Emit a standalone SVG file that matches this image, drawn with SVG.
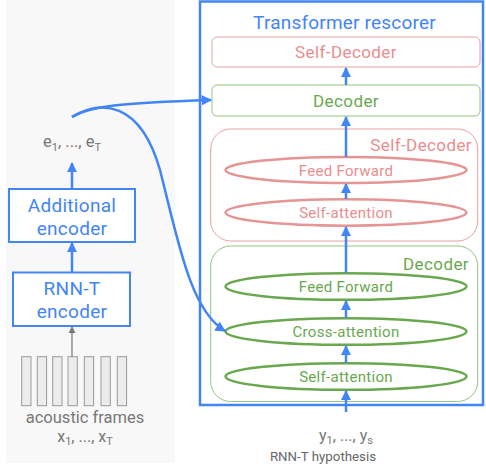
<svg xmlns="http://www.w3.org/2000/svg" width="486" height="468" viewBox="0 0 486 468">
<defs>
<style>
text{font-family:Roboto,"Liberation Sans",sans-serif;text-anchor:middle}
.blue{fill:#4285f4}
.pink{fill:#e88e8e}
.green{fill:#6aa84f}
.grey{fill:#777777}
.box{font-size:17px;letter-spacing:0.4px}
.el{font-size:15px;letter-spacing:0.3px}
.enc{font-size:19px;letter-spacing:0.3px}
.conn{fill:none;stroke:#4285f4;stroke-width:2.5}
.pel{fill:none;stroke:#e69595;stroke-width:2.5}
.gel{fill:none;stroke:#6aa84f;stroke-width:2.5}
.frame{fill:#ececec;stroke:#9a9a9a;stroke-width:1}
</style>
<marker id="ah" viewBox="0 0 10 10" refX="9" refY="5" markerWidth="4.2" markerHeight="4.2" orient="auto"><path d="M0,0L10,5L0,10z" fill="#4285f4"/></marker>
<marker id="ahg" viewBox="0 0 10 10" refX="9" refY="5" markerWidth="6" markerHeight="6" orient="auto"><path d="M0,0L10,5L0,10z" fill="#777"/></marker>
</defs>
<rect x="6" y="0" width="169" height="463" fill="#f8f8f8"/>
<g id="rescorer">
<rect x="200" y="1.5" width="283" height="403.5" fill="none" stroke="#4285f4" stroke-width="2.5"/>
<text x="344.5" y="29" font-size="19" letter-spacing="0.2" class="blue">Transformer rescorer</text>
</g>
<g id="self-decoder-top">
<rect x="212" y="37" width="268" height="30" rx="5" fill="#fff" stroke="#e8a0a0" stroke-width="1"/>
<text x="346" y="58" class="pink box">Self-Decoder</text>
</g>
<g id="decoder-top">
<rect x="212" y="85" width="268" height="31" rx="5" fill="#fff" stroke="#93c47d" stroke-width="1"/>
<text x="346" y="106.5" class="green box">Decoder</text>
</g>
<g id="self-decoder-block">
<rect x="210.7" y="129" width="267" height="112" rx="20" fill="none" stroke="#e8a0a0" stroke-width="1"/>
<text x="472" y="151" class="pink box" style="text-anchor:end">Self-Decoder</text>
</g>
<g id="sd-ff">
<ellipse cx="346" cy="170" rx="120.5" ry="13" class="pel"/>
<text x="346" y="175.5" class="pink el">Feed Forward</text>
</g>
<g id="sd-sa">
<ellipse cx="346" cy="212.5" rx="120.5" ry="13.2" class="pel"/>
<text x="346" y="218" class="pink el">Self-attention</text>
</g>
<g id="decoder-block">
<rect x="210.7" y="246" width="267" height="155.5" rx="20" fill="none" stroke="#93c47d" stroke-width="1"/>
<text x="469" y="270" class="green box" style="text-anchor:end">Decoder</text>
</g>
<g id="d-ff">
<ellipse cx="346" cy="286.5" rx="120.5" ry="13.3" class="gel"/>
<text x="346" y="292" class="green el">Feed Forward</text>
</g>
<g id="d-ca">
<ellipse cx="346" cy="331.5" rx="120.5" ry="13.3" class="gel"/>
<text x="346" y="337" class="green el">Cross-attention</text>
</g>
<g id="d-sa">
<ellipse cx="346" cy="376.5" rx="120.5" ry="13.3" class="gel"/>
<text x="346" y="382" class="green el">Self-attention</text>
</g>
<g id="hyp">
<text x="346" y="441" font-size="16" class="grey">y<tspan font-size="11" dy="3">1</tspan><tspan dy="-3">, ..., y</tspan><tspan font-size="11" dy="3">s</tspan></text>
<text x="323" y="461" font-size="13.3" fill="#666">RNN-T hypothesis</text>
</g>
<g id="e-text">
<text x="72" y="147" font-size="16.5" class="grey">e<tspan font-size="11" dy="4">1</tspan><tspan dy="-4">, ..., e</tspan><tspan font-size="11" dy="4">T</tspan></text>
</g>
<g id="additional-encoder">
<rect x="9" y="189" width="126" height="53" fill="#fff" stroke="#4285f4" stroke-width="2"/>
<text x="72" y="212" class="blue enc">Additional</text>
<text x="72" y="235" class="blue enc">encoder</text>
</g>
<g id="rnnt-encoder">
<rect x="13" y="272.5" width="117" height="53.5" fill="#fff" stroke="#4285f4" stroke-width="2"/>
<text x="72" y="295" class="blue enc">RNN-T</text>
<text x="72" y="318" class="blue enc">encoder</text>
</g>
<g id="frames">
<rect x="21.7" y="356.7" width="9.3" height="49" class="frame"/>
<rect x="37.3" y="356.7" width="9.3" height="49" class="frame"/>
<rect x="52.7" y="356.7" width="9.3" height="49" class="frame"/>
<rect x="68" y="356.7" width="9.3" height="49" class="frame"/>
<rect x="84.3" y="356.7" width="9.3" height="49" class="frame"/>
<rect x="101" y="356.7" width="9.3" height="49" class="frame"/>
<rect x="117.3" y="356.7" width="9.3" height="49" class="frame"/>
<text x="85" y="423" font-size="16.5" class="grey">acoustic frames</text>
<text x="85" y="442" font-size="16" class="grey">x<tspan font-size="11" dy="3">1</tspan><tspan dy="-3">, ..., x</tspan><tspan font-size="11" dy="3">T</tspan></text>
</g>
<g id="connectors">
<line x1="346" y1="85" x2="346" y2="68" class="conn" marker-end="url(#ah)"/>
<line x1="346" y1="157" x2="346" y2="117" class="conn" marker-end="url(#ah)"/>
<line x1="346" y1="199" x2="346" y2="184" class="conn" marker-end="url(#ah)"/>
<line x1="346" y1="273" x2="346" y2="227" class="conn" marker-end="url(#ah)"/>
<line x1="346" y1="318" x2="346" y2="301" class="conn" marker-end="url(#ah)"/>
<line x1="346" y1="363" x2="346" y2="346" class="conn" marker-end="url(#ah)"/>
<line x1="346" y1="412" x2="346" y2="391" class="conn" marker-end="url(#ah)"/>
<line x1="72" y1="189" x2="72" y2="163" class="conn" marker-end="url(#ah)"/>
<line x1="72" y1="272" x2="72" y2="243" class="conn" marker-end="url(#ah)"/>
<line x1="72" y1="356.7" x2="72" y2="327" stroke="#777" stroke-width="1.2" marker-end="url(#ahg)"/>
<path d="M72 117C90 106 120 103 211 100" class="conn" marker-end="url(#ah)"/>
<path d="M72 117C100 100 140 100 160 170C178 240 190 310 225 331" class="conn" marker-end="url(#ah)"/>
</g>
</svg>
